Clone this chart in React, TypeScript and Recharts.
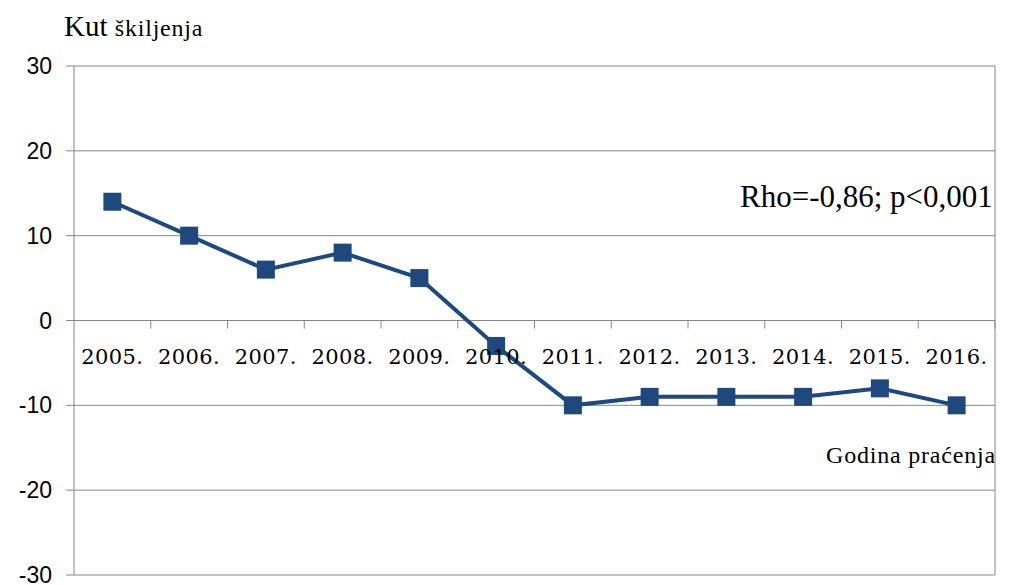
import { CartesianGrid, LineChart, Line, XAxis, YAxis, ReferenceLine } from 'recharts'

const years = ['2005.', '2006.', '2007.', '2008.', '2009.', '2010.', '2011.', '2012.', '2013.', '2014.', '2015.', '2016.']
const angles = [14, 10, 6, 8, 5, -3, -10, -9, -9, -9, -8, -10]
const yTicks = [-30, -20, -10, 0, 10, 20, 30]
const boundaries = [0.5, 1.5, 2.5, 3.5, 4.5, 5.5, 6.5, 7.5, 8.5, 9.5, 10.5, 11.5]

const data = years.map((year, i) => ({ i, year, value: angles[i] }))
const LINE = '#1f497d'
const serif = '"Liberation Serif", "Times New Roman", serif'

const Square = (p: any) => (
  <rect x={p.cx - 9} y={p.cy - 9} width={18} height={18} fill={LINE} />
)

export default function App() {
  return (
    <div style={{ position: 'absolute', left: 0, top: 0, width: 1034, height: 585, background: '#fff' }}>
      <LineChart width={1034} height={585} data={data} margin={{ top: 66, right: 39, bottom: 9, left: 0 }}>
        <CartesianGrid vertical={false} stroke="#868686" />
        <XAxis
          type="number"
          dataKey="i"
          domain={[-0.5, 11.5]}
          ticks={[0, 1, 2, 3, 4, 5, 6, 7, 8, 9, 10, 11]}
          height={1}
          axisLine={false}
          tickLine={false}
          interval={0}
          tick={(p: any) => (
            <text x={p.x} y={364} textAnchor="middle" fontFamily='"DejaVu Serif", serif' fontSize={21} letterSpacing={0.4} fill="#000">
              {years[p.payload.value]}
            </text>
          )}
        />
        <YAxis
          width={74}
          domain={[-30, 30]}
          ticks={yTicks}
          interval={0}
          stroke="#868686"
          tickSize={8}
          tickMargin={14}
          tick={{ fill: '#000', fontSize: 23, fontFamily: '"Liberation Sans", Arial, sans-serif' }}
        />
        <ReferenceLine x={11.5} stroke="#868686" />
        <ReferenceLine y={0} stroke="#868686" />
        {boundaries.map((b) => (
          <ReferenceLine key={b} segment={[{ x: b, y: 0 }, { x: b, y: -0.95 }]} stroke="#868686" />
        ))}
        <Line
          dataKey="value"
          stroke={LINE}
          strokeWidth={4}
          dot={<Square />}
          activeDot={false}
          isAnimationActive={false}
        />
        <text x={64} y={36} fontFamily={serif} fill="#000">
          <tspan fontSize={29}>Kut </tspan>
          <tspan fontSize={24} letterSpacing={0.8}>škiljenja</tspan>
        </text>
        <text x={740} y={207} fontFamily={serif} fontSize={31} fill="#000">Rho=-0,86; p&lt;0,001</text>
        <text x={826} y={463} fontFamily={serif} fontSize={24} letterSpacing={0.8} fill="#000">Godina praćenja</text>
      </LineChart>
    </div>
  )
}
